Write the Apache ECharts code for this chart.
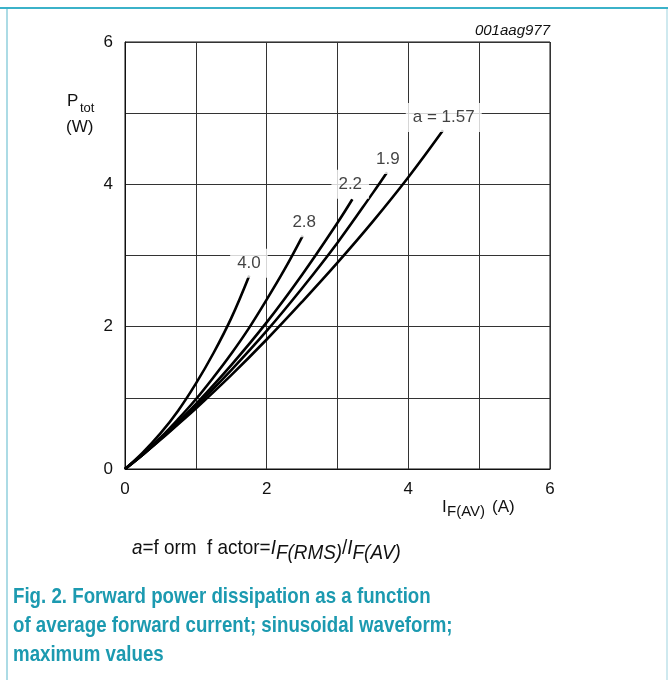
<!DOCTYPE html>
<html>
<head>
<meta charset="utf-8">
<script src="https://cdn.jsdelivr.net/npm/echarts@6/dist/echarts.min.js"></script>
<style>
html,body{margin:0;padding:0;background:#fff;}
#c{width:668px;height:680px;}
</style>
</head>
<body>
<div id="c"></div>
<script>
// ---- data ----
var xTicks = [0, 2, 4, 6];
var yTicks = [0, 2, 4, 6];
var curveA157 = [[0,0],[0.25,0.2],[0.5,0.41],[0.75,0.63],[1.0,0.85],[1.5,1.32],[2.0,1.82],[2.5,2.35],[3.0,2.9],[3.5,3.48],[4.0,4.1],[4.49,4.76]];
var curveA19  = [[0,0],[0.25,0.2],[0.5,0.42],[0.75,0.64],[1.0,0.88],[1.5,1.39],[2.0,1.94],[2.5,2.54],[3.0,3.18],[3.5,3.88],[3.70,4.17]];
var curveA22  = [[0,0],[0.25,0.2],[0.5,0.42],[0.75,0.66],[1.0,0.91],[1.5,1.46],[2.0,2.06],[2.5,2.73],[3.0,3.46],[3.21,3.79]];
var curveA28  = [[0,0],[0.25,0.21],[0.5,0.44],[0.75,0.7],[1.0,0.98],[1.25,1.29],[1.5,1.62],[1.75,1.98],[2.0,2.38],[2.25,2.8],[2.51,3.28]];
var curveA40  = [[0,0],[0.25,0.23],[0.5,0.5],[0.75,0.82],[1.0,1.2],[1.25,1.63],[1.5,2.12],[1.755,2.72]];
var curveLabels = [[4.50,4.94,'a = 1.57'],[3.71,4.35,'1.9'],[3.18,4.00,'2.2'],[2.53,3.46,'2.8'],[1.75,2.89,'4.0']];

var chart = echarts.init(document.getElementById('c'), null, {renderer:'canvas'});
var F = 'Liberation Sans, Arial, Helvetica, sans-serif';
function line(d){
  return {type:'line', data:d, smooth:0.4, symbol:'none', silent:true,
    lineStyle:{color:'#000', width:2.6}, z:3};
}
var option = {
  backgroundColor:'#fff',
  animation:false,
  grid:{left:125, right:118, top:42, bottom:211, show:true, borderColor:'#111', borderWidth:1},
  xAxis:{type:'value', min:0, max:6, interval:1,
    axisLine:{show:true, lineStyle:{color:'#111'}}, axisTick:{show:false},
    splitLine:{show:true, lineStyle:{color:'#333', width:1}},
    axisLabel:{margin:12, fontSize:17, color:'#111', fontFamily:F,
      formatter:function(v){return xTicks.indexOf(v)>=0 ? String(v) : '';}}},
  yAxis:{type:'value', min:0, max:6, interval:1,
    axisLine:{show:true, lineStyle:{color:'#111'}}, axisTick:{show:false},
    splitLine:{show:true, lineStyle:{color:'#333', width:1}},
    axisLabel:{margin:12, fontSize:17, color:'#111', fontFamily:F,
      formatter:function(v){return yTicks.indexOf(v)>=0 ? String(v) : '';}}},
  series:[
    line(curveA157), line(curveA19), line(curveA22), line(curveA28), line(curveA40),
    {type:'scatter', data:curveLabels, symbolSize:0, silent:true, z:5,
      label:{show:true, position:'inside', formatter:function(p){return p.value[2];},
        fontSize:17, fontFamily:F, color:'#111', backgroundColor:'#fff', padding:[6,7,6,7]}}
  ],
  graphic:[
    {type:'rect', shape:{x:0,y:7,width:668,height:2}, style:{fill:'#3bb2c9'}, silent:true},
    {type:'rect', shape:{x:6,y:9,width:2,height:671}, style:{fill:'#acdbe5'}, silent:true},
    {type:'rect', shape:{x:666,y:9,width:2,height:671}, style:{fill:'#cfe9ef'}, silent:true},
    {type:'text', right:118, top:23, style:{text:'001aag977', font:'italic 15px '+F, fill:'#111'}},
    {type:'text', left:67, top:93, style:{text:'P', font:'17px '+F, fill:'#111'}},
    {type:'text', left:80, top:102, style:{text:'tot', font:'13px '+F, fill:'#111'}},
    {type:'text', left:66, top:119, style:{text:'(W)', font:'17px '+F, fill:'#111'}},
    {type:'text', left:442, top:499, style:{text:'I', font:'17px '+F, fill:'#111'}},
    {type:'text', left:447, top:504, style:{text:'F(AV)', font:'15px '+F, fill:'#111'}},
    {type:'text', left:492, top:499, style:{text:'(A)', font:'17px '+F, fill:'#111'}},
    {type:'text', x:132, y:533, scaleX:0.9, style:{
      rich:{
        it:{font:'italic 21px '+F, fill:'#111'},
        n:{font:'21px '+F, fill:'#111'},
        sub:{font:'italic 21px '+F, fill:'#111', padding:[10,0,0,0]}
      },
      text:'{it|a}{n|=f orm  f actor=}{it|I}{sub|F(RMS)}{n|/}{it|I}{sub|F(AV)}'}},
    {type:'text', x:13, y:582, scaleX:0.85, style:{
      text:'Fig. 2. Forward power dissipation as a function\nof average forward current; sinusoidal waveform;\nmaximum values',
      font:'bold 22px '+F, fill:'#1c9ab0', lineHeight:29}}
  ]
};
chart.setOption(option);
</script>
</body>
</html>
